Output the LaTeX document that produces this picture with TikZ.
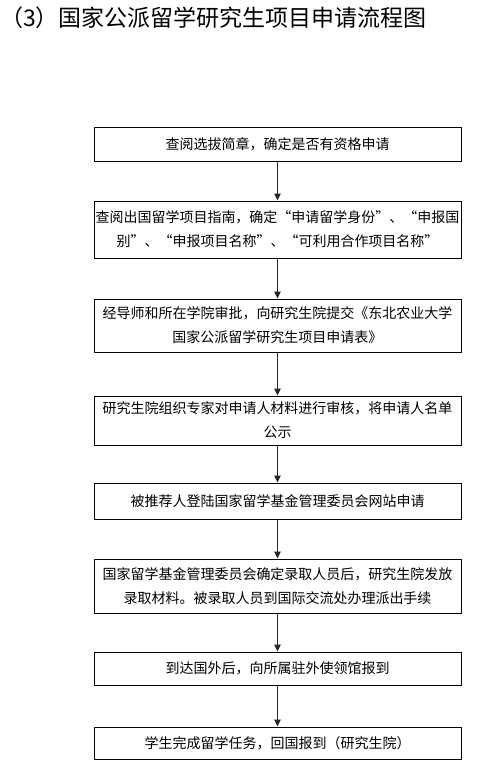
\documentclass[tikz,border=0pt]{standalone}
\usepackage{fontspec}
\newfontfamily\cjk{Noto Sans CJK SC}
\usetikzlibrary{arrows.meta}
\begin{document}
\begin{tikzpicture}[x=1pt,y=-1pt,
  stepbox/.style={draw=black,line width=0.9pt,minimum width=367pt,inner sep=0pt,align=center,
    font=\cjk\fontsize{14}{24}\selectfont},
  flow/.style={draw=black!85,line width=1.3pt,-{Triangle[width=6.5pt,length=7pt]}}]
\useasboundingbox (0,0) rectangle (478,777);
\node[anchor=west,inner sep=0pt,font=\cjk\fontsize{23}{26}\selectfont] (title) at (0,18) {（3）国家公派留学研究生项目申请流程图};
\node[stepbox,minimum height=34pt] (b1) at (277.5,144) {查阅选拔简章，确定是否有资格申请};
\node[stepbox,minimum height=57pt] (b2) at (277.5,229.5) {查阅出国留学项目指南，确定“申请留学身份”、“申报国\\别”、“申报项目名称”、“可利用合作项目名称”};
\node[stepbox,minimum height=53pt] (b3) at (277.5,325.5) {经导师和所在学院审批，向研究生院提交《东北农业大学\\国家公派留学研究生项目申请表》};
\node[stepbox,minimum height=49pt] (b4) at (277.5,420.5) {研究生院组织专家对申请人材料进行审核，将申请人名单\\公示};
\node[stepbox,minimum height=36pt] (b5) at (277.5,501) {被推荐人登陆国家留学基金管理委员会网站申请};
\node[stepbox,minimum height=54pt] (b6) at (277.5,586) {国家留学基金管理委员会确定录取人员后，研究生院发放\\录取材料。被录取人员到国际交流处办理派出手续};
\node[stepbox,minimum height=33pt] (b7) at (277.5,668.5) {到达国外后，向所属驻外使领馆报到};
\node[stepbox,minimum height=32pt] (b8) at (277.5,743) {学生完成留学任务，回国报到（研究生院）};
\foreach \a/\b in {b1/b2,b2/b3,b3/b4,b4/b5,b5/b6,b6/b7,b7/b8}
  \draw[flow] (\a.south) -- (\b.north);
\end{tikzpicture}
\end{document}
